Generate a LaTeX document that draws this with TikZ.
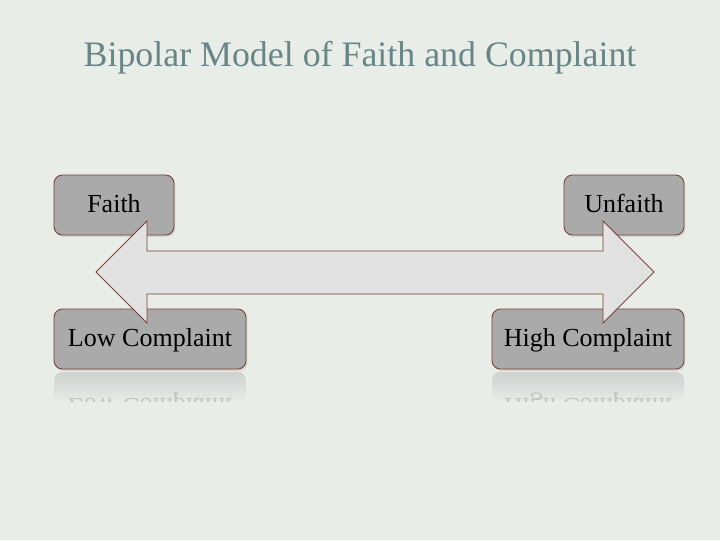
\documentclass[tikz,border=0pt]{standalone}
\usepackage{fontspec}
\setmainfont{Liberation Serif}
\usetikzlibrary{positioning,fadings,shadows}
\definecolor{slidebg}{RGB}{232,237,232}
\definecolor{titlegray}{RGB}{104,134,134}
\definecolor{boxfill}{RGB}{170,170,170}
\definecolor{boxedge}{RGB}{120,64,54}
\definecolor{arrowfill}{RGB}{226,226,226}
\tikzfading[name=reflfade, top color=transparent!60, bottom color=transparent!100]

\begin{document}
\begin{tikzpicture}[x=0.025cm, y=-0.025cm,
  pole/.style={rectangle, rounded corners=6pt, draw=boxedge, fill=boxfill, line width=0.6pt,
    minimum height=1.5cm, text height=2.7ex, text depth=0.25ex, font=\fontsize{18.5}{22}\selectfont,
    drop shadow={opacity=0.2, shadow xshift=1pt, shadow yshift=-1.5pt}},
  mirror/.style={fill=boxfill, rounded corners=6pt, path fading=reflfade},
  mirrortext/.style={opacity=0.15, font=\fontsize{18.5}{22}\selectfont}]
\fill[slidebg] (0,0) rectangle (720,540);
% Titel
\node[font=\fontsize{25.5}{30}\selectfont, text=titlegray] (title) at (360,58) {Bipolar Model of Faith and Complaint};
% Pole oben
\node[pole, minimum width=3cm] (faith) at (114,205) {Faith};
\node[pole, minimum width=3cm] (unfaith) at (624,205) {Unfaith};
% Pole unten
\node[pole, minimum width=4.8cm] (low) at (150,339) {Low Complaint};
\node[pole, minimum width=4.8cm] (high) at (588,339) {High Complaint};
% Spiegelungen
\begin{scope}
  \clip (50,372) rectangle (250,401);
  \fill[mirror] (54,372) rectangle (246,402);
  \node[mirrortext] (lowrefl) at (150,405) {\scalebox{1}[-1]{Low Complaint}};
\end{scope}
\begin{scope}
  \clip (488,372) rectangle (688,401);
  \fill[mirror] (492,372) rectangle (684,402);
  \node[mirrortext] (highrefl) at (588,405) {\scalebox{1}[-1]{High Complaint}};
\end{scope}
% Doppelpfeil
\draw[boxedge, fill=arrowfill, line width=0.6pt] (96,272) -- (147,221) -- (147,251) -- (603,251)
  -- (603,221) -- (654,272) -- (603,323) -- (603,294) -- (147,294) -- (147,323) -- cycle;
\end{tikzpicture}
\end{document}
